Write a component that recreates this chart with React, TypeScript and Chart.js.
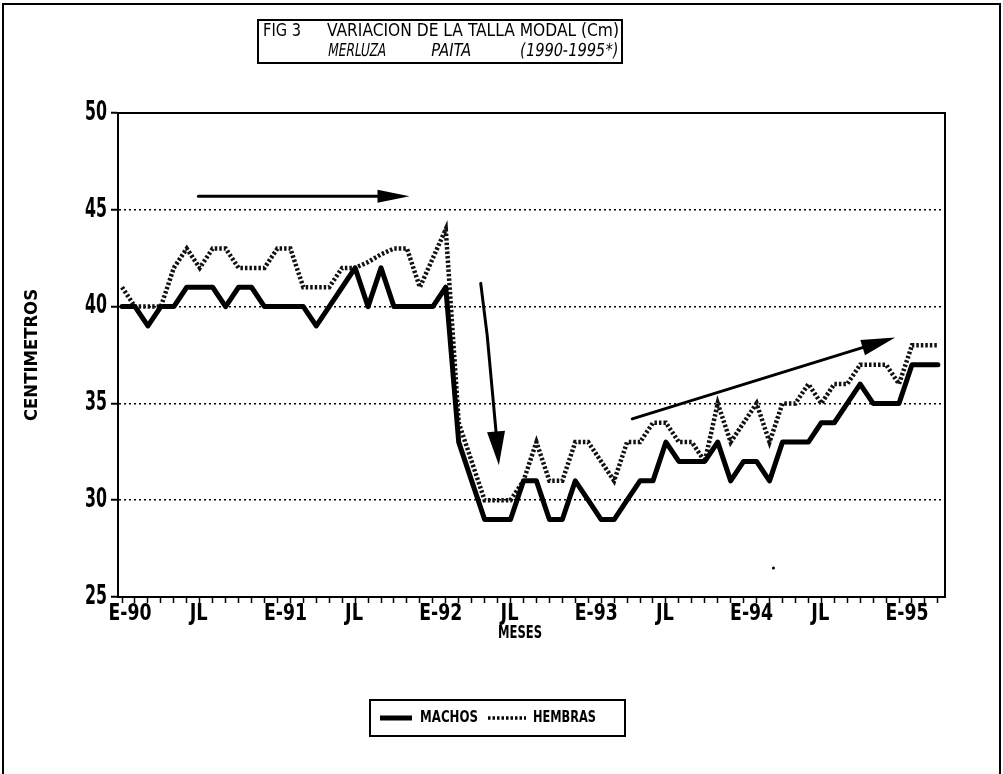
import React, { useEffect, useRef } from "react";
import { Chart, registerables } from "chart.js";

Chart.register(...registerables);

const FONT = "'DejaVu Sans Condensed', 'Liberation Sans Narrow', 'DejaVu Sans', sans-serif";

// Monthly modal size (cm), January 1990 (index 0) to April 1995 (index 63)
const machos = [
  40, 40, 39, 40, 40, 41, 41, 41, 40, 41,
  41, 40, 40, 40, 40, 39, 40, 41, 42, 40,
  42, 40, 40, 40, 40, 41, 33, 31, 29, 29,
  29, 31, 31, 29, 29, 31, 30, 29, 29, 30,
  31, 31, 33, 32, 32, 32, 33, 31, 32, 32,
  31, 33, 33, 33, 34, 34, 35, 36, 35, 35,
  35, 37, 37, 37,
];
const hembras = [
  41, 40, 40, 40, 42, 43, 42, 43, 43, 42,
  42, 42, 43, 43, 41, 41, 41, 42, 42, 42.3,
  42.7, 43, 43, 41, 42.5, 44, 34, 32, 30, 30,
  30, 31, 33, 31, 31, 33, 33, 32, 31, 33,
  33, 34, 34, 33, 33, 32, 35, 33, 34, 35,
  33, 35, 35, 36, 35, 36, 36, 37, 37, 37,
  36, 38, 38, 38,
];

const seriesNames = ["MACHOS", "HEMBRAS"];
const xTickLabels = ["E-90", "JL", "E-91", "JL", "E-92", "JL", "E-93", "JL", "E-94", "JL", "E-95"];
const xTickMonths = [0, 6, 12, 18, 24, 30, 36, 42, 48, 54, 60];
const yTicks = [25, 30, 35, 40, 45, 50];
const titleLine1 = ["FIG 3", "VARIACION DE LA TALLA MODAL (Cm)"];
const titleLine2 = ["MERLUZA", "PAITA", "(1990-1995*)"];
const xAxisTitle = "MESES";
const yAxisTitle = "CENTIMETROS";

// hand-drawn arrows on the figure, in (month index, cm)
const flechas = [
  { pts: [[5.9, 45.7], [22.2, 45.7]], head: [32, 13] },
  { pts: [[27.7, 41.2], [28.2, 38.5], [28.6, 35.6], [28.9, 33.4], [29.1, 31.8]], head: [34, 18] },
  { pts: [[39.4, 34.2], [59.7, 38.4]], head: [34, 16] },
];
const punto = [50.3, 26.5];

function drawFit(
  ctx: CanvasRenderingContext2D,
  text: string,
  x: number,
  y: number,
  w: number,
  font: string,
  align: "left" | "center" | "right" = "left",
  skew = 0
) {
  ctx.save();
  ctx.font = font;
  ctx.fillStyle = "#000";
  ctx.textBaseline = "middle";
  ctx.textAlign = "left";
  const m = ctx.measureText(text).width;
  const s = w / m;
  const left = align === "center" ? x - w / 2 : align === "right" ? x - w : x;
  ctx.translate(left, y);
  if (skew) ctx.transform(1, 0, skew, 1, 0, 0);
  ctx.scale(s, 1);
  ctx.fillText(text, 0, 0);
  ctx.restore();
}

function drawArrow(ctx: CanvasRenderingContext2D, pts: number[][], headLen: number, headW: number) {
  const n = pts.length;
  const tip = pts[n - 1];
  const prev = pts[n - 2];
  const dx = tip[0] - prev[0];
  const dy = tip[1] - prev[1];
  const len = Math.hypot(dx, dy);
  const ux = dx / len;
  const uy = dy / len;
  const bx = tip[0] - ux * headLen;
  const by = tip[1] - uy * headLen;
  ctx.save();
  ctx.strokeStyle = "#000";
  ctx.fillStyle = "#000";
  ctx.lineWidth = 3;
  ctx.lineCap = "round";
  ctx.lineJoin = "round";
  ctx.beginPath();
  ctx.moveTo(pts[0][0], pts[0][1]);
  for (let i = 1; i < n - 1; i++) {
    const d = Math.hypot(pts[i][0] - tip[0], pts[i][1] - tip[1]);
    if (d > headLen) ctx.lineTo(pts[i][0], pts[i][1]);
  }
  ctx.lineTo(bx + ux * 4, by + uy * 4);
  ctx.stroke();
  ctx.beginPath();
  ctx.moveTo(tip[0], tip[1]);
  ctx.lineTo(bx - uy * headW / 2, by + ux * headW / 2);
  ctx.lineTo(bx + uy * headW / 2, by - ux * headW / 2);
  ctx.closePath();
  ctx.fill();
  ctx.restore();
}

const decorPlugin = {
  id: "decor",
  afterDraw(chart: any) {
    const { ctx, chartArea: a } = chart;
    const xs = chart.scales.x;
    const ys = chart.scales.y;
    ctx.save();

    // outer frame
    ctx.strokeStyle = "#000";
    ctx.lineWidth = 2;
    ctx.beginPath();
    ctx.moveTo(3, 800);
    ctx.lineTo(3, 4);
    ctx.lineTo(1000, 4);
    ctx.lineTo(1000, 800);
    ctx.stroke();

    // plot box top & right
    ctx.beginPath();
    ctx.moveTo(a.left, a.top);
    ctx.lineTo(a.right, a.top);
    ctx.lineTo(a.right, a.bottom);
    ctx.stroke();

    // y tick labels
    yTicks.forEach((v) => {
      drawFit(ctx, String(v), 107, ys.getPixelForValue(v), 22, `bold 26px ${FONT}`, "right");
    });

    // x tick labels
    xTickLabels.forEach((t, i) => {
      const px = xs.getPixelForValue(xTickMonths[i]);
      const isE = t.startsWith("E");
      drawFit(ctx, t, px + (isE ? 8 : -1), 614, isE ? 43 : 18, `bold 23px ${FONT}`, "center");
    });

    // axis titles
    drawFit(ctx, xAxisTitle, 520, 634, 44, `bold 17px ${FONT}`, "center");
    ctx.save();
    ctx.translate(33, 355);
    ctx.rotate(-Math.PI / 2);
    drawFit(ctx, yAxisTitle, 0, 0, 132, `bold 17px ${FONT}`, "center");
    ctx.restore();

    // arrows
    flechas.forEach((f) => {
      const pts = f.pts.map((p) => [xs.getPixelForValue(p[0]), ys.getPixelForValue(p[1])]);
      drawArrow(ctx, pts, f.head[0], f.head[1]);
    });
    ctx.fillStyle = "#000";
    ctx.beginPath();
    ctx.arc(xs.getPixelForValue(punto[0]), ys.getPixelForValue(punto[1]), 1.5, 0, Math.PI * 2);
    ctx.fill();

    // title box
    ctx.lineWidth = 2;
    ctx.strokeRect(258, 20, 364, 43);
    drawFit(ctx, titleLine1[0], 263, 31.5, 38, `18px ${FONT}`);
    drawFit(ctx, titleLine1[1], 327, 31.5, 292, `18px ${FONT}`);
    drawFit(ctx, titleLine2[0], 328, 51, 58, `18px ${FONT}`, "left", -0.15);
    drawFit(ctx, titleLine2[1], 431, 51, 40, `18px ${FONT}`, "left", -0.15);
    drawFit(ctx, titleLine2[2], 520, 51, 98, `18px ${FONT}`, "left", -0.15);

    // legend box
    const lx = 370, ly = 700, lw = 255, lh = 36;
    ctx.strokeRect(lx, ly, lw, lh);
    const cy = ly + lh / 2;
    ctx.lineWidth = 5;
    ctx.setLineDash([]);
    ctx.beginPath();
    ctx.moveTo(380, cy);
    ctx.lineTo(412, cy);
    ctx.stroke();
    drawFit(ctx, seriesNames[0], 420, cy, 58, `bold 16px ${FONT}`);
    ctx.lineWidth = 3.5;
    ctx.setLineDash([2.5, 2]);
    ctx.beginPath();
    ctx.moveTo(488, cy);
    ctx.lineTo(526, cy);
    ctx.stroke();
    ctx.setLineDash([]);
    drawFit(ctx, seriesNames[1], 533, cy, 63, `bold 16px ${FONT}`);

    ctx.restore();
  },
};

export default function App() {
  const ref = useRef<HTMLCanvasElement>(null);

  useEffect(() => {
    document.body.style.margin = "0";
    document.body.style.overflow = "hidden";
    Chart.defaults.font.family = FONT;
    const chart = new Chart(ref.current as HTMLCanvasElement, {
      type: "line",
      data: {
        datasets: [
          {
            label: seriesNames[0],
            data: machos.map((v, i) => ({ x: i, y: v })),
            borderColor: "#000",
            borderWidth: 5,
            pointRadius: 0,
            tension: 0,
            borderJoinStyle: "round",
            borderCapStyle: "round",
          },
          {
            label: seriesNames[1],
            data: hembras.map((v, i) => ({ x: i, y: v })),
            borderColor: "#111",
            borderWidth: 4.5,
            borderDash: [2.5, 2],
            pointRadius: 0,
            tension: 0,
          },
        ],
      },
      options: {
        responsive: false,
        animation: false,
        devicePixelRatio: 1,
        events: [],
        layout: { padding: { top: 113, right: 58, bottom: 0, left: 0 } },
        plugins: {
          legend: { display: false },
          title: { display: false },
          tooltip: { enabled: false },
        },
        scales: {
          x: {
            type: "linear",
            min: -0.31,
            max: 63.55,
            afterBuildTicks: (s: any) => {
              s.ticks = machos.map((_, i) => ({ value: i }));
            },
            ticks: { display: false, autoSkip: false },
            grid: {
              display: true,
              drawOnChartArea: false,
              drawTicks: true,
              tickLength: 6,
              tickColor: "#000",
              tickWidth: 1.5,
            },
            border: { display: true, color: "#000", width: 2 },
            afterFit: (s: any) => {
              s.height = 774 - 597;
            },
          },
          y: {
            min: 25,
            max: 50,
            afterBuildTicks: (s: any) => {
              s.ticks = yTicks.map((v) => ({ value: v }));
            },
            ticks: { display: false },
            grid: {
              color: "#000",
              lineWidth: 1.5,
              drawTicks: true,
              tickLength: 7,
              tickColor: "#000",
              tickWidth: 2,
              tickBorderDash: [100, 0],
            },
            border: { display: true, color: "#000", width: 2, dash: [2, 3] },
            afterFit: (s: any) => {
              s.width = 118;
            },
          },
        },
      },
      plugins: [decorPlugin],
    } as any);
    return () => chart.destroy();
  }, []);

  return (
    <div style={{ width: 1003, height: 774, background: "#fff" }}>
      <canvas ref={ref} width={1003} height={774} style={{ display: "block" }} />
    </div>
  );
}
